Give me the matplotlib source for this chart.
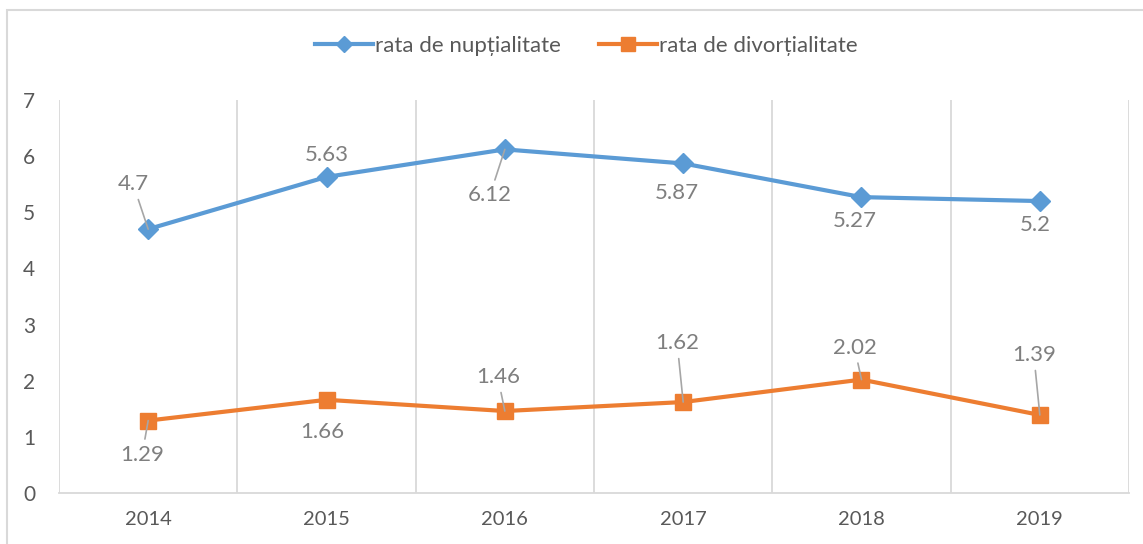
import matplotlib
matplotlib.use("Agg")
import matplotlib.pyplot as plt
from matplotlib.patches import Rectangle

plt.rcParams['font.family'] = ['Lato', 'DejaVu Sans']

years = ["2014", "2015", "2016", "2017", "2018", "2019"]
nuptialitate = [4.7, 5.63, 6.12, 5.87, 5.27, 5.2]
divortialitate = [1.29, 1.66, 1.46, 1.62, 2.02, 1.39]
labels_series = ["rata de nupțialitate", "rata de divorțialitate"]
yticks = [0, 1, 2, 3, 4, 5, 6, 7]

# label offsets in pixels (dx, dy) and whether a leader line is drawn
off_n = [(-15, 45, True), (0, 22, False), (-15, -46, True), (-6, -30, False), (-7, -24, False), (-5, -24, False)]
off_d = [(-6, -34, True), (-4, -32, False), (-7, 34, True), (-6, 59, True), (-7, 32, True), (-6, 60, True)]

BLUE = "#5B9BD5"
ORANGE = "#ED7D31"
GRID = "#D9D9D9"
TXT = "#595959"
LBL = "#7F7F7F"

fig = plt.figure(figsize=(11.43, 5.44), dpi=100)
ax = fig.add_axes([59/1143, 1-493/544, (1129-59)/1143, (493-100)/544])

x = list(range(len(years)))
ax.plot(x, nuptialitate, color=BLUE, lw=3, marker='D', markersize=10, label=labels_series[0], zorder=3)
ax.plot(x, divortialitate, color=ORANGE, lw=3, marker='s', markersize=12, label=labels_series[1], zorder=3)

for xs, ys, offs in [(x, nuptialitate, off_n), (x, divortialitate, off_d)]:
    for xi, yi, (dx, dy, lead) in zip(xs, ys, offs):
        kw = {}
        if lead:
            kw['arrowprops'] = dict(arrowstyle='-', color='#A6A6A6', lw=1.2, shrinkA=2, shrinkB=0)
        ax.annotate(f"{yi:g}", xy=(xi, yi), xytext=(dx, dy), textcoords='offset pixels',
                    ha='center', va='center', fontsize=16, color=LBL, zorder=5, **kw)

ax.set_xlim(-0.5, len(years) - 0.5)
ax.set_ylim(0, 7)
ax.set_yticks(yticks)
ax.set_yticklabels([str(v) for v in yticks])
ax.set_xticks(x)
ax.set_xticklabels(years)
ax.tick_params(axis='y', length=0, labelsize=15, labelcolor=TXT, pad=17)
ax.tick_params(axis='x', length=0, labelsize=14.5, labelcolor=TXT, pad=13)

for b in [i - 0.5 for i in range(len(years) + 1)]:
    ax.axvline(b, color=GRID, lw=1.3, zorder=1)
for s in ['top', 'left', 'right']:
    ax.spines[s].set_visible(False)
ax.spines['bottom'].set_color(GRID)
ax.spines['bottom'].set_linewidth(1.3)

fig.legend(loc='center', bbox_to_anchor=(0.513, 1-46/544), ncol=2, frameon=False,
           fontsize=16, handlelength=2.6, columnspacing=1.7, handletextpad=0.12, labelcolor=TXT,
           markerscale=0.85)

fig.patches.append(Rectangle((7/1143, -0.1), 1.2, 1 - 10/544 + 0.1, transform=fig.transFigure,
                             fill=False, edgecolor=GRID, lw=1.5))

fig.savefig("out.png", dpi=100, facecolor='white')
